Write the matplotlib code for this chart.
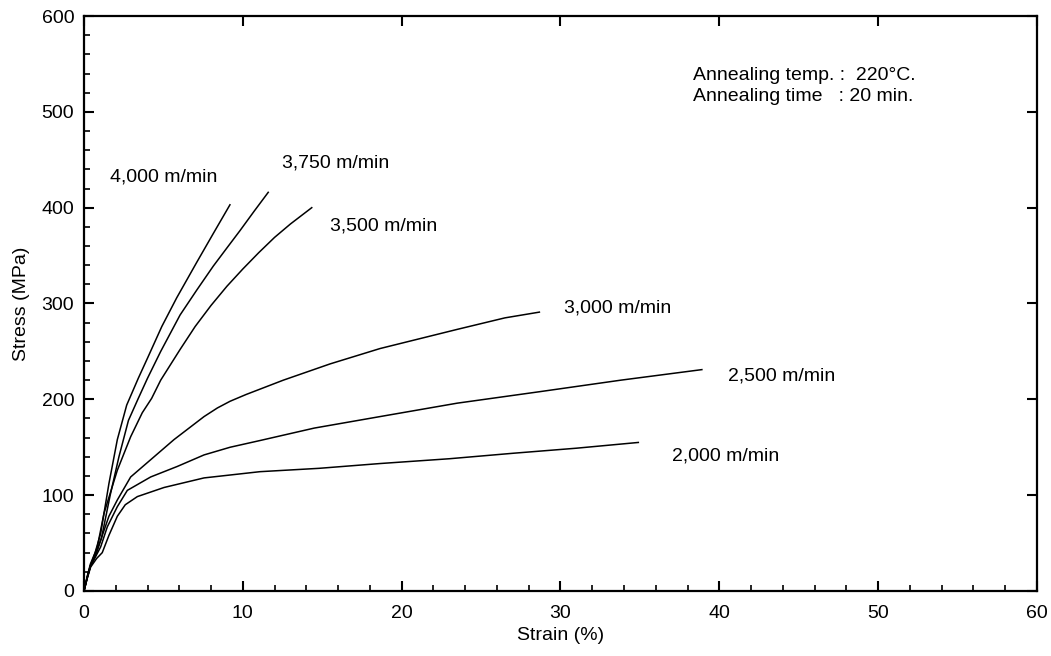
import matplotlib.pyplot as plt
from matplotlib.ticker import MultipleLocator

plt.rcParams['font.family'] = ['Liberation Sans', 'DejaVu Sans']

# stress-strain curves, one per take-up speed
strain_4000 = [0, 0.2, 0.4, 0.7, 1.05, 1.57, 2.1, 2.69, 3.42, 4.0, 4.9, 5.84, 7.1, 8.14, 9.19]
stress_4000 = [0, 15, 28, 40, 60, 112, 158, 194, 222, 243, 276, 306, 343, 373, 403]

strain_3750 = [0, 0.2, 0.4, 0.8, 1.1, 1.65, 2.2, 2.8, 3.42, 4.0, 4.83, 6.05, 7.1, 8.14, 9.0, 9.82, 10.7, 11.6]
stress_3750 = [0, 14, 26, 42, 55, 100, 140, 178, 201, 222, 250, 288, 314, 339, 358, 376, 396, 416]

strain_3500 = [0, 0.2, 0.4, 0.84, 1.26, 2.1, 2.94, 3.67, 4.26, 4.83, 6.05, 7, 8, 9, 10, 11, 12, 13, 14.34]
stress_3500 = [0, 14, 26, 46, 81, 126, 161, 186, 201, 220, 252, 276, 298, 318, 336, 353, 369, 383, 400]

strain_3000 = [0, 0.2, 0.4, 0.8, 1.05, 1.57, 2.1, 2.94, 4.2, 5.67, 7.56, 8.4, 9.2, 10.2, 12.55, 15.5, 18.64, 23.5, 26.5, 28.67]
stress_3000 = [0, 14, 26, 40, 53, 78, 95, 119, 137, 158, 182, 191, 198, 205, 220, 237, 253, 273, 285, 291]

strain_2500 = [0, 0.2, 0.4, 0.8, 1.05, 1.47, 2.1, 2.73, 4.2, 5.88, 7.56, 9.2, 11.08, 14.5, 18.64, 23.5, 28.7, 33.8, 38.9]
stress_2500 = [0, 13, 25, 38, 46, 67, 88, 105, 119, 130, 142, 150, 157, 170, 182, 196, 208, 220, 231]

strain_2000 = [0, 0.2, 0.42, 0.8, 1.15, 1.57, 2.1, 2.6, 3.36, 5.04, 7.56, 11.08, 14.8, 18.64, 23.0, 27.0, 31.0, 34.9]
stress_2000 = [0, 13, 25, 34, 40, 58, 78, 90, 98.5, 108, 118, 124.5, 128, 133, 138, 143.7, 149, 155]

curves = [
    (strain_4000, stress_4000, '4,000 m/min', 1.64, 432),
    (strain_3750, stress_3750, '3,750 m/min', 12.47, 447),
    (strain_3500, stress_3500, '3,500 m/min', 15.5, 381),
    (strain_3000, stress_3000, '3,000 m/min', 30.2, 295),
    (strain_2500, stress_2500, '2,500 m/min', 40.55, 224),
    (strain_2000, stress_2000, '2,000 m/min', 37.0, 141),
]

fig = plt.figure(figsize=(10.51, 6.56), dpi=100)
ax = fig.add_axes([0.0799, 0.0991, 0.9068, 0.8765])

for x, y, label, tx, ty in curves:
    ax.plot(x, y, color='black', linewidth=1.1)
    ax.text(tx, ty, label, fontsize=14, va='center', ha='left')

ax.text(38.35, 538, 'Annealing temp. :  220\u00b0C.', fontsize=14, va='center')
ax.text(38.35, 516, 'Annealing time   : 20 min.', fontsize=14, va='center')

ax.set_xlim(0, 60)
ax.set_ylim(0, 600)
ax.xaxis.set_major_locator(MultipleLocator(10))
ax.xaxis.set_minor_locator(MultipleLocator(2))
ax.yaxis.set_major_locator(MultipleLocator(100))
ax.yaxis.set_minor_locator(MultipleLocator(20))
ax.tick_params(which='major', direction='in', length=7, width=1.5,
               top=True, right=True, labelsize=14)
ax.tick_params(axis='x', which='major', pad=10)
ax.tick_params(axis='y', which='major', pad=7)
ax.tick_params(which='minor', direction='in', length=4, width=1.2,
               top=False, right=False)
for s in ax.spines.values():
    s.set_linewidth(1.6)

ax.set_xlabel('Strain (%)', fontsize=14, labelpad=4)
ax.set_ylabel('Stress (MPa)', fontsize=14, labelpad=8)

fig.savefig('out.png', dpi=100)
